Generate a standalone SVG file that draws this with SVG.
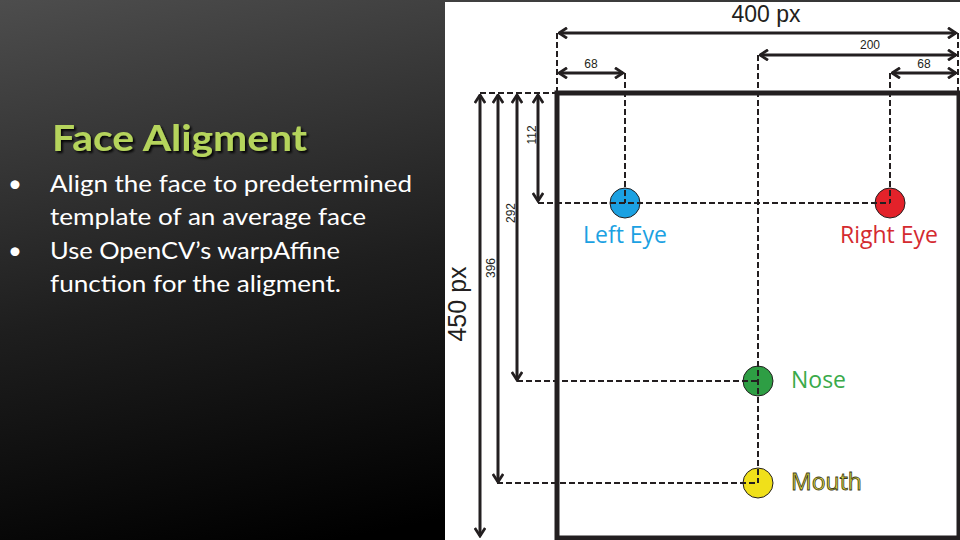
<svg xmlns="http://www.w3.org/2000/svg" width="960" height="540" viewBox="0 0 960 540">
<defs>
<linearGradient id="bg" x1="0" y1="0" x2="0.35" y2="1">
<stop offset="0" stop-color="#4d4d4d"/>
<stop offset="0.55" stop-color="#1e1e1e"/>
<stop offset="1" stop-color="#000"/>
</linearGradient>
<marker id="ah" viewBox="0 0 12 12" refX="10.5" refY="6" markerWidth="12" markerHeight="12" markerUnits="userSpaceOnUse" orient="auto-start-reverse">
<path d="M2.5,0.8 L10.5,6 L2.5,11.2" fill="none" stroke="#231f20" stroke-width="2.8"/>
</marker>
<filter id="sh" x="-5%" y="-20%" width="110%" height="140%">
<feDropShadow dx="2" dy="2" stdDeviation="1.2" flood-color="#000" flood-opacity="0.9"/>
</filter>
</defs>
<style>
.dim{stroke:#231f20;stroke-width:3;fill:none;marker-start:url(#ah);marker-end:url(#ah)}
.dash{stroke:#231f20;stroke-width:2;fill:none;stroke-dasharray:6 3}
.lbl{font-family:"Liberation Sans",Arial,sans-serif;fill:#231f20}
.body{font-family:Lato,"Liberation Sans",sans-serif;font-size:24px;fill:#fff}
.pt{stroke:#231f20;stroke-width:1}
.name{font-family:"Open Sans","Liberation Sans",sans-serif;font-size:23px}
</style>
<rect x="0" y="0" width="960" height="540" fill="url(#bg)"/>
<rect x="445" y="2" width="515" height="538" fill="#fff"/>
<g id="title">
<text x="52" y="151" font-family="Lato,'Liberation Sans',sans-serif" font-weight="bold" font-size="36" fill="#b5d45c" filter="url(#sh)" textLength="255" lengthAdjust="spacingAndGlyphs">Face Aligment</text>
</g>
<g id="bullets">
<text x="8" y="192" class="body">•</text>
<text x="50" y="192" class="body" textLength="362" lengthAdjust="spacingAndGlyphs">Align the face to predetermined</text>
<text x="50" y="225" class="body" textLength="316" lengthAdjust="spacingAndGlyphs">template of an average face</text>
<text x="8" y="259" class="body">•</text>
<text x="50" y="259" class="body" textLength="290" lengthAdjust="spacingAndGlyphs">Use OpenCV’s warpAffine</text>
<text x="50" y="292" class="body" textLength="291" lengthAdjust="spacingAndGlyphs">function for the aligment.</text>
</g>
<g id="frame">
<rect x="557" y="93" width="402" height="445" fill="none" stroke="#231f20" stroke-width="5"/>
</g>
<g id="left-eye">
<circle class="pt" cx="625" cy="203" r="15" fill="#1ba1e2"/>
<text class="name" x="625" y="243" text-anchor="middle" fill="#1ba1e2">Left Eye</text>
</g>
<g id="right-eye">
<circle class="pt" cx="890" cy="203" r="15" fill="#e3222a"/>
<text class="name" x="889" y="243" text-anchor="middle" fill="#d42a2f">Right Eye</text>
</g>
<g id="nose">
<circle class="pt" cx="758" cy="381" r="15" fill="#2e9e44"/>
<text class="name" x="791" y="388" fill="#3aaa4a">Nose</text>
</g>
<g id="mouth">
<circle class="pt" cx="758" cy="483" r="15" fill="#f0e01a"/>
<text class="name" x="791" y="490" fill="#e5dc3c" stroke="#3a3a1a" stroke-width="0.8">Mouth</text>
</g>
<g id="connectors">
<path class="dash" d="M557,33 V93 M958,33 V93 M480,93 H557 M625,73 V203 M890,73 V203 M758,55 V483 M538,203 H890 M517,381 H758 M497,483 H758"/>
<line class="dim" x1="559" y1="33" x2="956" y2="33"/>
<line class="dim" x1="760" y1="55" x2="956" y2="55"/>
<line class="dim" x1="559" y1="73" x2="623" y2="73"/>
<line class="dim" x1="892" y1="73" x2="956" y2="73"/>
<line class="dim" x1="538" y1="95" x2="538" y2="201"/>
<line class="dim" x1="517" y1="95" x2="517" y2="380"/>
<line class="dim" x1="498" y1="95" x2="498" y2="482"/>
<line class="dim" x1="480" y1="95" x2="480" y2="536"/>
</g>
<g id="labels">
<text class="lbl" x="766" y="22" font-size="23" text-anchor="middle">400 px</text>
<text class="lbl" x="870" y="49" font-size="12" text-anchor="middle">200</text>
<text class="lbl" x="591" y="68" font-size="12" text-anchor="middle">68</text>
<text class="lbl" x="924" y="68" font-size="12" text-anchor="middle">68</text>
<text class="lbl" font-size="12" text-anchor="middle" transform="translate(536,135) rotate(-90)">112</text>
<text class="lbl" font-size="12" text-anchor="middle" transform="translate(515,213) rotate(-90)">292</text>
<text class="lbl" font-size="12" text-anchor="middle" transform="translate(495,268) rotate(-90)">396</text>
<text class="lbl" font-size="25" text-anchor="middle" transform="translate(466,304) rotate(-90)">450 px</text>
</g>
</svg>
